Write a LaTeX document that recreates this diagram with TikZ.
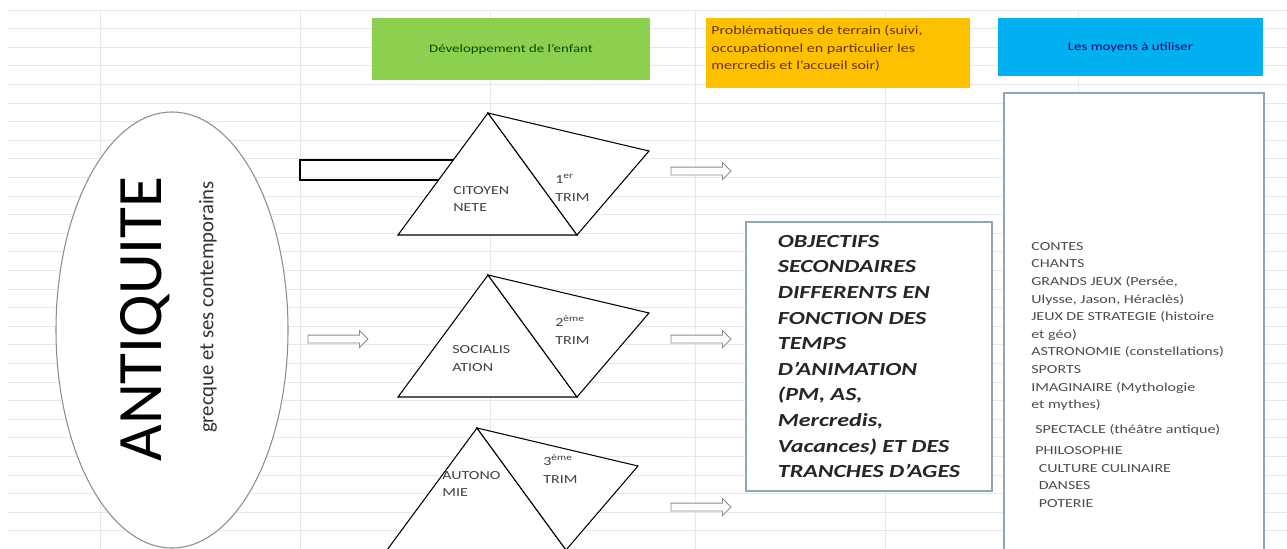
\documentclass[tikz,border=0pt]{standalone}
\usepackage{fontspec}
\setmainfont{Carlito}[FakeStretch=1.3]
\newfontfamily\antfont{Carlito}
\usetikzlibrary{shapes.geometric,shapes.arrows,positioning}

\definecolor{hdrgreen}{HTML}{8DCF4F}
\definecolor{hdrorange}{HTML}{FFC000}
\definecolor{hdrblue}{HTML}{00B0F0}
\definecolor{gridgray}{HTML}{E6E8EC}
\definecolor{boxedge}{HTML}{8FA6B4}

\begin{document}
\begin{tikzpicture}[x=0.2mm,y=-0.2mm,
		hdr/.style={inner sep=0pt,font=\fontsize{6.5}{9}\selectfont},
		tri/.style={draw,fill=white,line width=0.6pt},
		lbl/.style={align=left,anchor=west,inner sep=0pt,font=\fontsize{7}{10.2}\selectfont,text=black!75},
		liste/.style={align=left,anchor=west,inner sep=0pt,font=\fontsize{7}{10}\selectfont,text=black!70},
		fleche/.style={single arrow,draw=black!45,fill=white,line width=0.5pt,minimum height=12mm,inner xsep=0pt,inner ysep=0.7mm,single arrow head extend=0.9mm}]
	\clip (0,0) rectangle (1287,549);
	\fill[white] (0,0) rectangle (1287,549);
	\foreach \r in {0,...,29}
		\draw[gridgray] (8,{10+18.6*\r}) -- (1287,{10+18.6*\r});
	\foreach \c in {100,300,490,695,885,1078}
		\draw[gridgray] (\c,10) -- (\c,549);
	
	\node[hdr,fill=hdrgreen,minimum width=55.6mm,minimum height=12.4mm,text=green!30!black] (dev) at (511,49) {Développement de l’enfant};
	\node[hdr,fill=hdrorange,minimum width=52.8mm,minimum height=14mm] (pb) at (838,53) {};
	\node[hdr,anchor=west,align=left,font=\fontsize{7}{9.9}\selectfont,text=orange!40!black] (pbtxt) at (711,48.5) {Problématiques de terrain (suivi,\\occupationnel en particulier les\\mercredis et l’accueil soir)};
	\node[hdr,fill=hdrblue,minimum width=53mm,minimum height=11.6mm,text=blue!40!black] (moy) at (1130.5,47) {Les moyens à utiliser};
	
	\node[ellipse,draw=black!45,fill=white,line width=0.6pt,minimum width=46.4mm,minimum height=87.2mm,inner sep=0pt] (antiq) at (172,330) {};
	\node[rotate=90,inner sep=0pt,font=\antfont\fontsize{36}{40}\selectfont] (titre) at (145,319) {ANTIQUITE};
	\node[rotate=90,inner sep=0pt,font=\antfont\fontsize{11.8}{14}\selectfont,text=black!80] (sous) at (208,307) {grecque et ses contemporains};
	
	\draw[line width=1.3pt] (300,160) rectangle (470,180);
	\draw[tri] (398,235) -- ++(179,0) -- ++(-89,-122) -- cycle;
	\draw[tri] (488,113) -- ++(161,38) -- ++(-72,84) -- cycle;
	\draw[tri] (398,397) -- ++(179,0) -- ++(-89,-122) -- cycle;
	\draw[tri] (488,275) -- ++(161,38) -- ++(-72,84) -- cycle;
	\draw[tri] (387,550) -- ++(179,0) -- ++(-89,-122) -- cycle;
	\draw[tri] (477,428) -- ++(161,38) -- ++(-72,84) -- cycle;
	
	\node[lbl] (cit) at (453,199) {CITOYEN\\NETE};
	\node[lbl] (t1) at (555,188) {1\textsuperscript{er}\\TRIM};
	\node[lbl] (soc) at (452,359) {SOCIALIS\\ATION};
	\node[lbl] (t2) at (555,330) {2\textsuperscript{ème}\\TRIM};
	\node[lbl] (aut) at (442,484) {AUTONO\\MIE};
	\node[lbl] (t3) at (543,469) {3\textsuperscript{ème}\\TRIM};
	
	\node[fleche] (f0) at (336,339) {};
	\node[fleche] (f1) at (699,171) {};
	\node[fleche] (f2) at (699,339) {};
	\node[fleche] (f3) at (699,507) {};
	
	\node[draw=boxedge,fill=white,line width=0.8pt,minimum width=49.2mm,minimum height=53.8mm,inner sep=0pt,align=left,font=\fontsize{10.5}{14.6}\selectfont\bfseries\itshape,text=black!85] (obj) at (869,356.5) {OBJECTIFS\\SECONDAIRES\\DIFFERENTS EN\\FONCTION DES\\TEMPS\\D’ANIMATION\\(PM, AS,\\Mercredis,\\Vacances) ET DES\\TRANCHES D’AGES};
	
	\node[draw=boxedge,fill=white,line width=0.9pt,minimum width=52mm,minimum height=100mm,anchor=north,inner sep=0pt] (cadre) at (1134,92) {};
	\node[liste] (l1) at (1031,326.5) {CONTES\\CHANTS\\GRANDS JEUX (Persée,\\Ulysse, Jason, Héraclès)\\JEUX DE STRATEGIE (histoire\\et géo)\\ASTRONOMIE (constellations)\\SPORTS\\IMAGINAIRE (Mythologie\\et mythes)};
	\node[liste] (l2) at (1035,430) {SPECTACLE (théâtre antique)};
	\node[liste] (l3) at (1035,477) {PHILOSOPHIE\\\hspace{2pt}CULTURE CULINAIRE\\\hspace{2pt}DANSES\\\hspace{2pt}POTERIE};
\end{tikzpicture}
\end{document}
